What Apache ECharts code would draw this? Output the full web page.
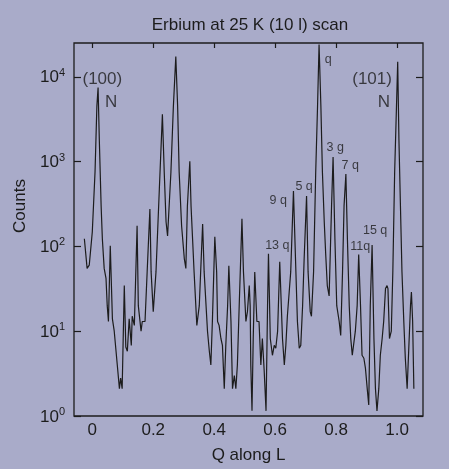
<!DOCTYPE html>
<html><head><meta charset="utf-8">
<script src="https://cdn.jsdelivr.net/npm/echarts@6/dist/echarts.min.js"></script>
<style>html,body{margin:0;padding:0;background:#a9abc9}#c{width:449px;height:469px}</style>
</head><body><div id="c"></div>
<script>
const qValues = [-0.026,-0.017,-0.010,0.000,0.009,0.015,0.019,0.023,0.029,0.033,0.039,0.045,0.049,0.053,0.059,0.066,0.072,0.082,0.089,0.093,0.098,0.105,0.110,0.115,0.121,0.128,0.131,0.138,0.147,0.151,0.160,0.164,0.173,
0.180,0.189,0.193,0.200,0.209,0.220,0.230,0.236,0.242,0.247,0.258,0.266,0.274,0.280,0.285,0.293,0.302,0.307,0.312,0.320,0.324,0.329,0.334,0.343,0.351,0.362,0.367,0.378,0.384,0.389,0.394,0.402,
0.408,0.411,0.416,0.422,0.427,0.433,0.438,0.444,0.448,0.455,0.460,0.466,0.471,0.476,0.482,0.491,0.496,0.504,0.509,0.515,0.518,0.520,0.524,0.528,0.533,0.540,0.547,0.553,0.558,0.564,0.570,0.575,0.578,0.584,0.591,0.597,0.602,0.608,0.615,0.624,0.630,
0.635,0.640,0.646,0.651,0.660,0.668,0.673,0.679,0.684,0.690,0.695,0.703,0.708,0.715,0.719,0.726,0.733,0.739,0.744,0.750,0.755,0.761,0.766,0.771,0.777,0.785,0.790,0.796,0.802,0.810,0.815,0.821,0.826,0.832,0.837,0.843,0.848,0.853,0.859,
0.863,0.869,0.874,0.880,0.885,0.891,0.896,0.902,0.907,0.912,0.918,0.924,0.929,0.934,0.940,0.945,0.951,0.956,0.962,0.967,0.970,0.975,0.981,0.986,0.992,0.998,1.002,1.006,1.011,1.016,1.022,1.027,1.033,1.038,1.044,1.047,1.051,1.055];
const counts = [123,55,60,148,752,4470,7460,1830,300,123,55,42,20,13,102,14,10,4.0,2.1,2.8,2.1,34.5,6.5,5.8,14,6.8,15,11.7,175,20,10,13,13,
50,276,50,17,50,475,3600,752,195,133,752,4470,17260,4470,752,175,71,55,300,1010,300,123,50,11.7,20,184,50,10,5.8,4.0,13,130,
50,13,11.7,8.2,6.8,2.1,6.8,20,59,13,2.1,3.0,2.1,4.0,20,211,50,13,17,34.5,20,4.0,1.15,8.2,50,13,13,4.0,8.2,3.4,1.15,20,82,8.2,5.2,6.8,6.3,10,66,8.2,4.0,
6.8,15,29,50,450,50,13,6.3,6.8,20,70,393,50,17,15,50,752,4470,24000,4470,752,195,78,34.5,26,300,1130,123,20,13,8.9,50,300,711,123,20,8.2,5.2,5.2,
10,20,80,20,5.2,4.8,3.7,2.1,1.35,20,104,8.2,2.1,1.15,2.1,5.2,8.2,13,31.8,34.5,31.8,8.2,10,50,752,4470,15000,1830,300,50,13,4.8,2.1,2.1,20,29,13,2.1];

const xTickValues = [0, 0.2, 0.4, 0.6, 0.8, 1.0];
const yTickValues = [1, 10, 100, 1000, 10000];

// peak labels: text, Q position, count position
const bigLabelText = ['(100)', 'N', '(101)', 'N'];
const bigLabelQ = [0.033, 0.062, 0.918, 0.957];
const bigLabelCount = [9270, 4980, 9270, 4980];
const smallLabelText = ['q', '3 g', '7 q', '5 q', '9 q', '13 q', '11q', '15 q'];
const smallLabelQ = [0.774, 0.797, 0.846, 0.695, 0.610, 0.607, 0.879, 0.928];
const smallLabelCount = [15900, 1476, 907, 501, 343, 102, 99, 152];

const FONT = '"Liberation Sans", Arial, Helvetica, sans-serif';
const INK = '#1c1c1c';

const lineData = qValues.map((q, i) => [q, counts[i]]);
const bigData = bigLabelText.map((t, i) => ({ value: [bigLabelQ[i], bigLabelCount[i]], name: t }));
const smallData = smallLabelText.map((t, i) => ({ value: [smallLabelQ[i], smallLabelCount[i]], name: t }));

const chart = echarts.init(document.getElementById('c'), null, { renderer: 'canvas' });
chart.setOption({
  backgroundColor: '#a9abc9',
  animation: false,
  textStyle: { fontFamily: FONT },
  graphic: [
    { type: 'text', x: 250, y: 25, style: { text: 'Erbium at 25 K (10 l) scan', fill: INK, font: '17px ' + FONT, align: 'center', verticalAlign: 'middle' } },
    { type: 'text', x: 20, y: 206, rotation: Math.PI / 2, style: { text: 'Counts', fill: INK, font: '17px ' + FONT, align: 'center', verticalAlign: 'middle' } }
  ],
  grid: { left: 74, right: 26, top: 43, bottom: 51, show: true, borderColor: INK, borderWidth: 1.3, backgroundColor: 'transparent' },
  xAxis: [
    {
      type: 'value', position: 'bottom', min: -0.06, max: 1.085,
      name: 'Q along L', nameLocation: 'middle', nameGap: 31,
      nameTextStyle: { color: INK, fontSize: 17, fontFamily: FONT },
      axisLine: { show: false, onZero: false }, splitLine: { show: false }, axisTick: { show: false },
      axisLabel: { customValues: xTickValues, color: INK, fontSize: 17, fontFamily: FONT, margin: 6,
        formatter: v => (Math.abs(v) < 1e-9 ? '0' : v.toFixed(1)) }
    },
    {
      type: 'value', position: 'top', min: -0.06, max: 1.085,
      axisLine: { show: false, onZero: false }, splitLine: { show: false },
      axisTick: { show: true, inside: true, length: 5, customValues: xTickValues, lineStyle: { color: INK, width: 1.2 } },
      axisLabel: { show: false }
    }
  ],
  yAxis: [
    {
      type: 'log', position: 'left', min: 1, max: 25000, logBase: 10,
      axisLine: { show: false, onZero: false }, splitLine: { show: false }, minorTick: { show: false },
      axisTick: { show: true, inside: true, length: 7, customValues: yTickValues, lineStyle: { color: INK, width: 1.2 } },
      axisLabel: {
        customValues: yTickValues, margin: 9, color: INK, fontFamily: FONT,
        formatter: v => { const e = Math.round(Math.log10(v)); return '{b|10}{s|' + e + '}'; },
        rich: { b: { fontSize: 17, color: INK, fontFamily: FONT, verticalAlign: 'bottom' },
                s: { fontSize: 11, color: INK, fontFamily: FONT, verticalAlign: 'top', padding: [0, 0, 8, 0] } }
      }
    },
    {
      type: 'log', position: 'right', min: 1, max: 25000, logBase: 10,
      axisLine: { show: false, onZero: false }, splitLine: { show: false },
      axisTick: { show: true, inside: true, length: 7, customValues: yTickValues, lineStyle: { color: INK, width: 1.2 } },
      axisLabel: { show: false }
    }
  ],
  series: [
    {
      type: 'line', xAxisIndex: 0, yAxisIndex: 0, data: lineData, showSymbol: false, symbol: 'none',
      lineStyle: { color: INK, width: 1.2 }, clip: true, silent: true
    },
    {
      type: 'scatter', xAxisIndex: 0, yAxisIndex: 0, data: bigData, symbolSize: 1,
      itemStyle: { color: 'transparent' }, silent: true,
      label: { show: true, position: 'inside', formatter: p => p.name, color: INK, fontSize: 17, fontFamily: FONT }
    },
    {
      type: 'scatter', xAxisIndex: 0, yAxisIndex: 0, data: smallData, symbolSize: 1,
      itemStyle: { color: 'transparent' }, silent: true,
      label: { show: true, position: 'inside', formatter: p => p.name, color: INK, fontSize: 12.5, fontFamily: FONT }
    }
  ]
});
</script></body></html>
